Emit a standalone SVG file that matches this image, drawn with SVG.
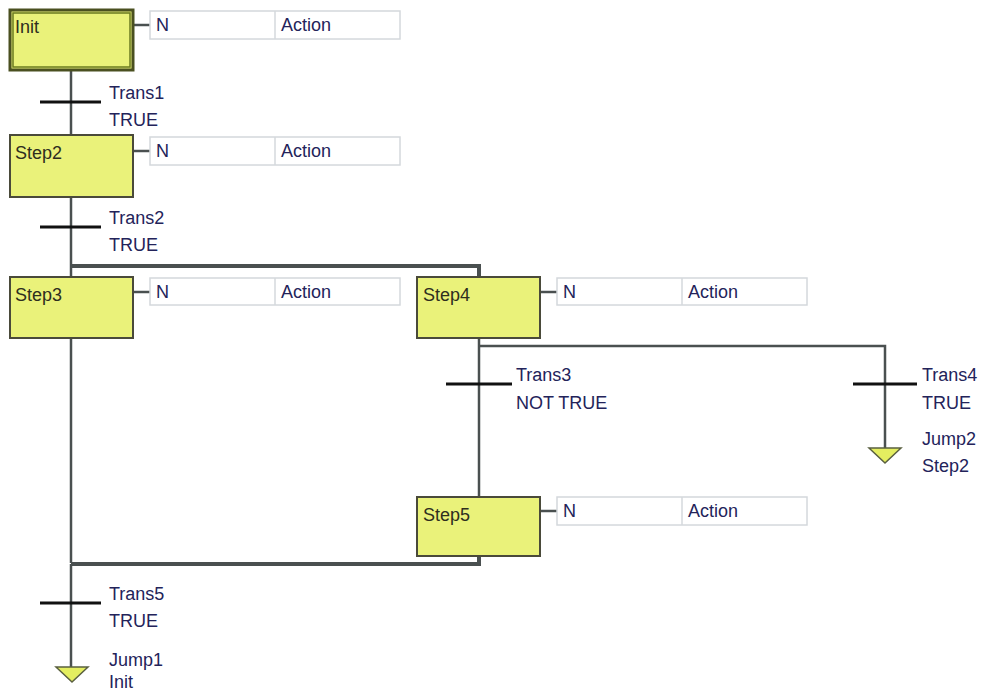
<svg xmlns="http://www.w3.org/2000/svg" width="987" height="691" viewBox="0 0 987 691">
<style>
.step{fill:#eaf27a;stroke:#4a4a3a;stroke-width:2}
.act{fill:#fff;stroke:#d4d8dc;stroke-width:1.5}
.wire{stroke:#4a5050;stroke-width:2.5;fill:none}
.dbl{stroke:#4a5050;stroke-width:4;fill:none}
.bar{stroke:#111;stroke-width:3}
.t{font-family:"Liberation Sans",Arial,sans-serif;font-size:18px;fill:#23235a}
.s{font-family:"Liberation Sans",Arial,sans-serif;font-size:18px;fill:#2e2e1e}
.jump{fill:#e4ee60;stroke:#5a6040;stroke-width:1.5}
</style>
<g id="connectors">
<line class="wire" x1="71" y1="70" x2="71" y2="135"/>
<line class="wire" x1="71" y1="197" x2="71" y2="277"/>
<polyline class="dbl" points="71,266 479,266 479,277"/>
<line class="wire" x1="71" y1="338" x2="71" y2="563"/>
<line class="wire" x1="479" y1="338" x2="479" y2="497"/>
<polyline class="wire" points="479,346 885,346 885,450"/>
<polyline class="dbl" points="71,564 479,564 479,556"/>
<line class="wire" x1="71" y1="564" x2="71" y2="670"/>
<line class="wire" x1="133" y1="25" x2="150" y2="25"/>
<line class="wire" x1="133" y1="151" x2="150" y2="151"/>
<line class="wire" x1="133" y1="292" x2="150" y2="292"/>
<line class="wire" x1="540" y1="292" x2="557" y2="292"/>
<line class="wire" x1="540" y1="511" x2="557" y2="511"/>
</g>
<g id="Init">
<rect x="10" y="10" width="123" height="60" fill="#eaf27a" stroke="#4a5020" stroke-width="3"/>
<rect x="13" y="13" width="117" height="54" fill="none" stroke="#6a7a20" stroke-width="1.5"/>
<text class="s" x="15" y="33">Init</text>
</g>
<g id="Init_action">
<rect class="act" x="150" y="11" width="250" height="28"/>
<line class="act" x1="275" y1="11" x2="275" y2="39"/>
<text class="t" x="156" y="31">N</text>
<text class="t" x="281" y="31">Action</text>
</g>
<g id="Trans1">
<line class="bar" x1="40" y1="102" x2="101" y2="102"/>
<text class="t" x="109" y="99">Trans1</text>
<text class="t" x="109" y="126">TRUE</text>
</g>
<g id="Step2">
<rect class="step" x="10" y="135" width="123" height="62"/>
<text class="s" x="15" y="159">Step2</text>
</g>
<g id="Step2_action">
<rect class="act" x="150" y="137" width="250" height="28"/>
<line class="act" x1="275" y1="137" x2="275" y2="165"/>
<text class="t" x="156" y="157">N</text>
<text class="t" x="281" y="157">Action</text>
</g>
<g id="Trans2">
<line class="bar" x1="40" y1="227" x2="101" y2="227"/>
<text class="t" x="109" y="224">Trans2</text>
<text class="t" x="109" y="251">TRUE</text>
</g>
<g id="Step3">
<rect class="step" x="10" y="277" width="123" height="61"/>
<text class="s" x="15" y="301">Step3</text>
</g>
<g id="Step3_action">
<rect class="act" x="150" y="278" width="250" height="27"/>
<line class="act" x1="275" y1="278" x2="275" y2="305"/>
<text class="t" x="156" y="298">N</text>
<text class="t" x="281" y="298">Action</text>
</g>
<g id="Step4">
<rect class="step" x="417" y="277" width="123" height="61"/>
<text class="s" x="423" y="301">Step4</text>
</g>
<g id="Step4_action">
<rect class="act" x="557" y="278" width="250" height="27"/>
<line class="act" x1="682" y1="278" x2="682" y2="305"/>
<text class="t" x="563" y="298">N</text>
<text class="t" x="688" y="298">Action</text>
</g>
<g id="Trans3">
<line class="bar" x1="446" y1="384" x2="512" y2="384"/>
<text class="t" x="516" y="381">Trans3</text>
<text class="t" x="516" y="409">NOT TRUE</text>
</g>
<g id="Trans4">
<line class="bar" x1="853" y1="384" x2="917" y2="384"/>
<text class="t" x="922" y="381">Trans4</text>
<text class="t" x="922" y="409">TRUE</text>
</g>
<g id="Jump2">
<polygon class="jump" points="869,448 901,448 885,463"/>
<text class="t" x="922" y="445">Jump2</text>
<text class="t" x="922" y="472">Step2</text>
</g>
<g id="Step5">
<rect class="step" x="417" y="497" width="123" height="59"/>
<text class="s" x="423" y="521">Step5</text>
</g>
<g id="Step5_action">
<rect class="act" x="557" y="497" width="250" height="28"/>
<line class="act" x1="682" y1="497" x2="682" y2="525"/>
<text class="t" x="563" y="517">N</text>
<text class="t" x="688" y="517">Action</text>
</g>
<g id="Trans5">
<line class="bar" x1="40" y1="603" x2="101" y2="603"/>
<text class="t" x="109" y="600">Trans5</text>
<text class="t" x="109" y="627">TRUE</text>
</g>
<g id="Jump1">
<polygon class="jump" points="56,667 88,667 72,682"/>
<text class="t" x="109" y="666">Jump1</text>
<text class="t" x="109" y="688" font-size="17">Init</text>
</g>
</svg>
